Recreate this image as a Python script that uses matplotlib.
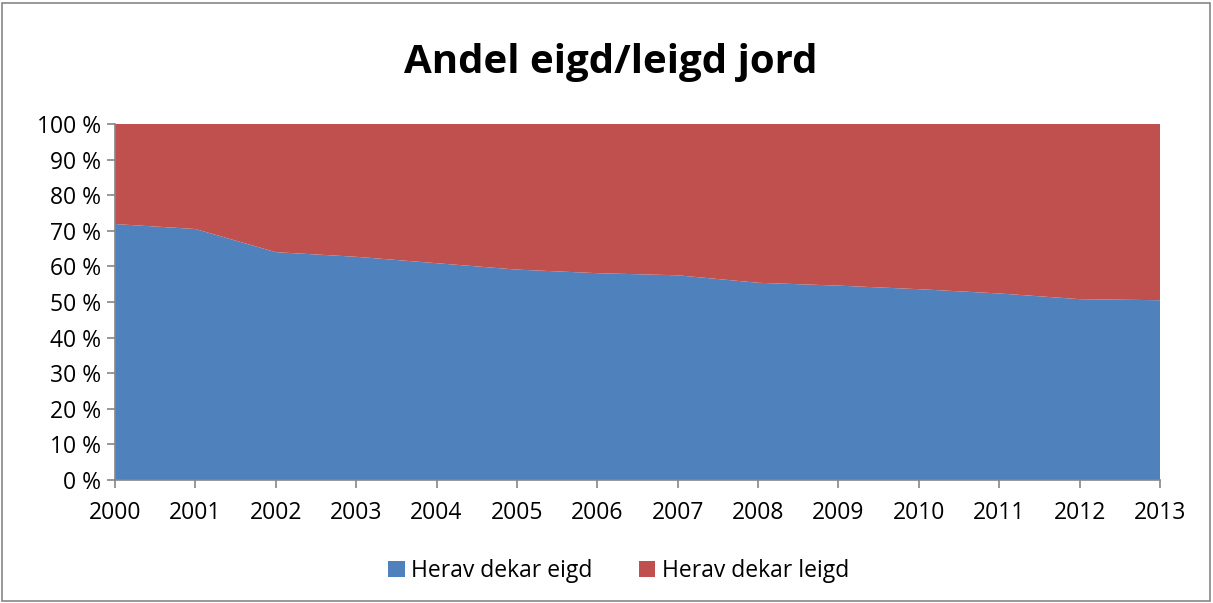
import numpy as np
import matplotlib.pyplot as plt
from matplotlib.patches import Rectangle

years = [2000, 2001, 2002, 2003, 2004, 2005, 2006, 2007, 2008, 2009, 2010, 2011, 2012, 2013]
eigd = [71.9, 70.5, 64.0, 62.7, 60.9, 59.1, 58.1, 57.5, 55.4, 54.6, 53.6, 52.4, 50.8, 50.5]
leigd = [100 - v for v in eigd]
names = ["Herav dekar eigd", "Herav dekar leigd"]
colors = ["#4F81BD", "#C0504D"]

plt.rcParams["font.family"] = ["Open Sans", "DejaVu Sans"]

fig = plt.figure(figsize=(12.13, 6.03), dpi=100)
ax = fig.add_axes([115 / 1213, 1 - 480 / 603, (1160 - 115) / 1213, (480 - 124) / 603])

ax.stackplot(years, eigd, leigd, colors=colors, labels=names)

ax.set_xlim(years[0], years[-1])
ax.set_ylim(0, 100)
ax.set_xticks(years)
ax.set_yticks(range(0, 101, 10))
ax.set_yticklabels([f"{v} %" for v in range(0, 101, 10)])
ax.tick_params(axis="both", labelsize=16.5, color="#868686", length=6, width=1.2)
ax.tick_params(axis="y", pad=4)
ax.tick_params(axis="x", pad=9)
for s in ["top", "right"]:
    ax.spines[s].set_visible(False)
for s in ["left", "bottom"]:
    ax.spines[s].set_color("#868686")
    ax.spines[s].set_linewidth(1.2)

fig.text(611 / 1213, 1 - 62 / 603, "Andel eigd/leigd jord", ha="center", va="center",
         fontsize=29, fontweight="bold")

fig.legend(loc="center", bbox_to_anchor=(0.51, 1 - 571 / 603), ncol=2, frameon=False,
           fontsize=16.5, handlelength=0.7, handleheight=0.7, handletextpad=0.3,
           columnspacing=2.0)

fig.patches.append(Rectangle((2 / 1213, 2 / 603), 1208 / 1213, 598 / 603,
                             transform=fig.transFigure, fill=False,
                             edgecolor="#868686", linewidth=1.2))

fig.savefig("out.png", dpi=100)
